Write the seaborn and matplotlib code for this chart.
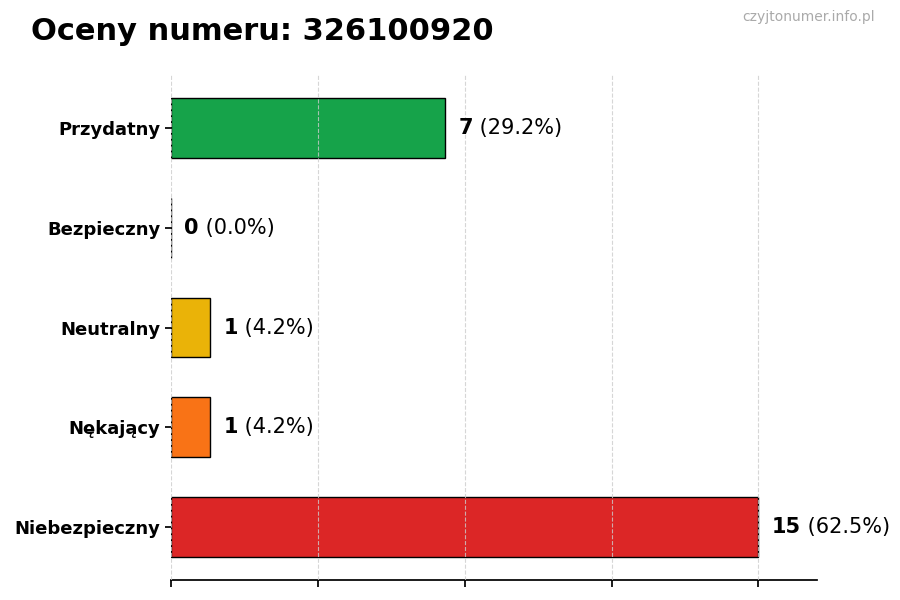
import matplotlib
matplotlib.use("Agg")
import matplotlib.pyplot as plt
import seaborn as sns
import pandas as pd
import numpy as np

categories = ["Przydatny", "Bezpieczny", "Neutralny", "Nękający", "Niebezpieczny"]
counts = [7, 0, 1, 1, 15]
colors = ["#16a34a", "#2563eb", "#eab308", "#f97316", "#dc2626"]
title = "Oceny numeru: 326100920"
watermark = "czyjtonumer.info.pl"

sns.set_theme(style="white")
plt.rcParams["font.family"] = ["DejaVu Sans"]
plt.rcParams["text.color"] = "black"
plt.rcParams["xtick.color"] = "black"
plt.rcParams["ytick.color"] = "black"

df = pd.DataFrame({"cat": categories, "n": counts})
total = sum(counts)

fig, ax = plt.subplots(figsize=(9, 6), dpi=100)
fig.subplots_adjust(left=0.19, right=0.908, top=0.875, bottom=0.0333)

sns.barplot(data=df, y="cat", x="n", hue="cat", palette=colors, order=categories,
            hue_order=categories, orient="h", width=0.6, edgecolor="black",
            linewidth=1, saturation=1, legend=False, ax=ax)

vmax = max(counts)
ax.set_xlim(0, vmax * 1.1)
ax.set_ylim(len(categories) - 1 + 0.53, -0.53)
ax.set_xticks(np.linspace(0, vmax, 5))
ax.set_xticklabels([])
ax.grid(axis="x", linestyle="--", color="#cccccc", linewidth=0.8, alpha=0.8)
ax.set_axisbelow(False)
ax.set_xlabel("")
ax.set_ylabel("")
for s in ["top", "right", "left"]:
    ax.spines[s].set_visible(False)
ax.spines["bottom"].set_color("black")
ax.tick_params(axis="x", length=5, color="black", bottom=True)
ax.tick_params(axis="y", length=4, color="black", left=True, labelcolor="black")
for lbl in ax.get_yticklabels():
    lbl.set_fontweight("bold")
    lbl.set_fontsize(13)

for i, v in enumerate(counts):
    pct = v / total * 100
    t1 = ax.annotate(f"{v}", xy=(v, i), xytext=(9.5, 0), textcoords="offset points",
                     ha="left", va="center", fontsize=15, fontweight="bold", color="black")
    ax.annotate(f" ({pct:.1f}%)", xy=(1, 0), xycoords=t1, ha="left", va="bottom",
                fontsize=15, color="black")

fig.text(0.034, 0.933, title, fontsize=22, fontweight="bold", ha="left", va="baseline",
         color="black")
fig.text(0.972, 0.971, watermark, fontsize=10, color="#aaaaaa", ha="right", va="center")

fig.savefig("out.png", dpi=100)
